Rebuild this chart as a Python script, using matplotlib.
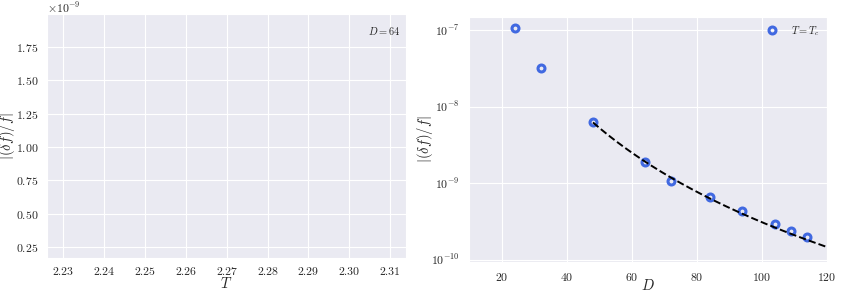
import numpy as np
import matplotlib
matplotlib.use("Agg")
import matplotlib.pyplot as plt
import seaborn as sns

sns.set_style("darkgrid")
plt.rcParams['font.family'] = ['serif']
plt.rcParams['font.serif'] = ['cmr10', 'DejaVu Serif']
plt.rcParams['mathtext.fontset'] = 'cm'
plt.rcParams['axes.formatter.use_mathtext'] = True
plt.rcParams['axes.unicode_minus'] = False

# Left panel (empty, D = 64)
left_xlim = (2.2261, 2.3139)
left_ylim = (0.17e-9, 1.995e-9)
left_xticks = [2.23, 2.24, 2.25, 2.26, 2.27, 2.28, 2.29, 2.30, 2.31]
left_yticks = [0.25e-9, 0.50e-9, 0.75e-9, 1.00e-9, 1.25e-9, 1.50e-9, 1.75e-9]
left_label = r"$D=64$"

# Right panel data
D = np.array([24, 32, 48, 64, 72, 84, 94, 104, 109, 114])
err = np.array([1.05e-7, 3.15e-8, 6.24e-9, 1.90e-9, 1.07e-9,
                6.6e-10, 4.38e-10, 2.96e-10, 2.39e-10, 1.96e-10])
fit_coef = 0.0466
fit_exp = -4.09
fit_range = (48, 120)
right_label = r"$T=T_c$"
right_xticks = [20, 40, 60, 80, 100, 120]

fig = plt.figure(figsize=(8.48, 2.95), dpi=100)
W, H = 848, 295
ax1 = fig.add_axes([47.3 / W, 1 - 258 / H, (406 - 47.3) / W, (258 - 14) / H])
ax2 = fig.add_axes([469 / W, 1 - 262.3 / H, (827 - 469) / W, (262.3 - 16.7) / H])

for ax in (ax1, ax2):
    ax.tick_params(labelsize=8.5, pad=3)

ax1.set_xlim(*left_xlim)
ax1.set_ylim(*left_ylim)
ax1.set_xticks(left_xticks)
ax1.set_xticklabels([f"{t:.2f}" for t in left_xticks])
ax1.set_yticks(left_yticks)
ax1.ticklabel_format(axis='y', style='sci', scilimits=(0, 0), useMathText=True)
ax1.yaxis.get_offset_text().set_fontsize(8.5)
ax1.yaxis.OFFSETTEXTPAD = 0
ax1.set_xlabel(r"$T$", fontsize=10.5)
ax1.set_ylabel(r"$|(\delta f)/f|$", fontsize=10.5)
ax1.xaxis.set_label_coords(0.5, -0.072)
ax1.yaxis.set_label_coords(-0.084, 0.5)
ax1.text(0.985, 0.955, left_label, transform=ax1.transAxes, ha='right', va='top', fontsize=7.5)

ax2.set_yscale('log')
ax2.plot(D, err, 'o', mfc='none', mec='#4169e1', mew=2.2, ms=5, label=right_label)
Dfit = np.linspace(*fit_range, 200)
ax2.plot(Dfit, fit_coef * Dfit ** fit_exp, 'k--', lw=1.4)
ax2.set_xlim(9.85, 120)
ax2.set_ylim(10 ** -10.035, 10 ** -6.826)
ax2.set_xticks(right_xticks)
ax2.set_xlabel(r"$D$", fontsize=10.5)
ax2.set_ylabel(r"$|(\delta f)/f|$", fontsize=10.5)
ax2.xaxis.set_label_coords(0.5, -0.062)
ax2.yaxis.set_label_coords(-0.095, 0.5)
ax2.legend(loc='upper right', fontsize=7.5, frameon=False, handletextpad=0.8,
           borderaxespad=0.3)

fig.savefig("out.png", dpi=100)
